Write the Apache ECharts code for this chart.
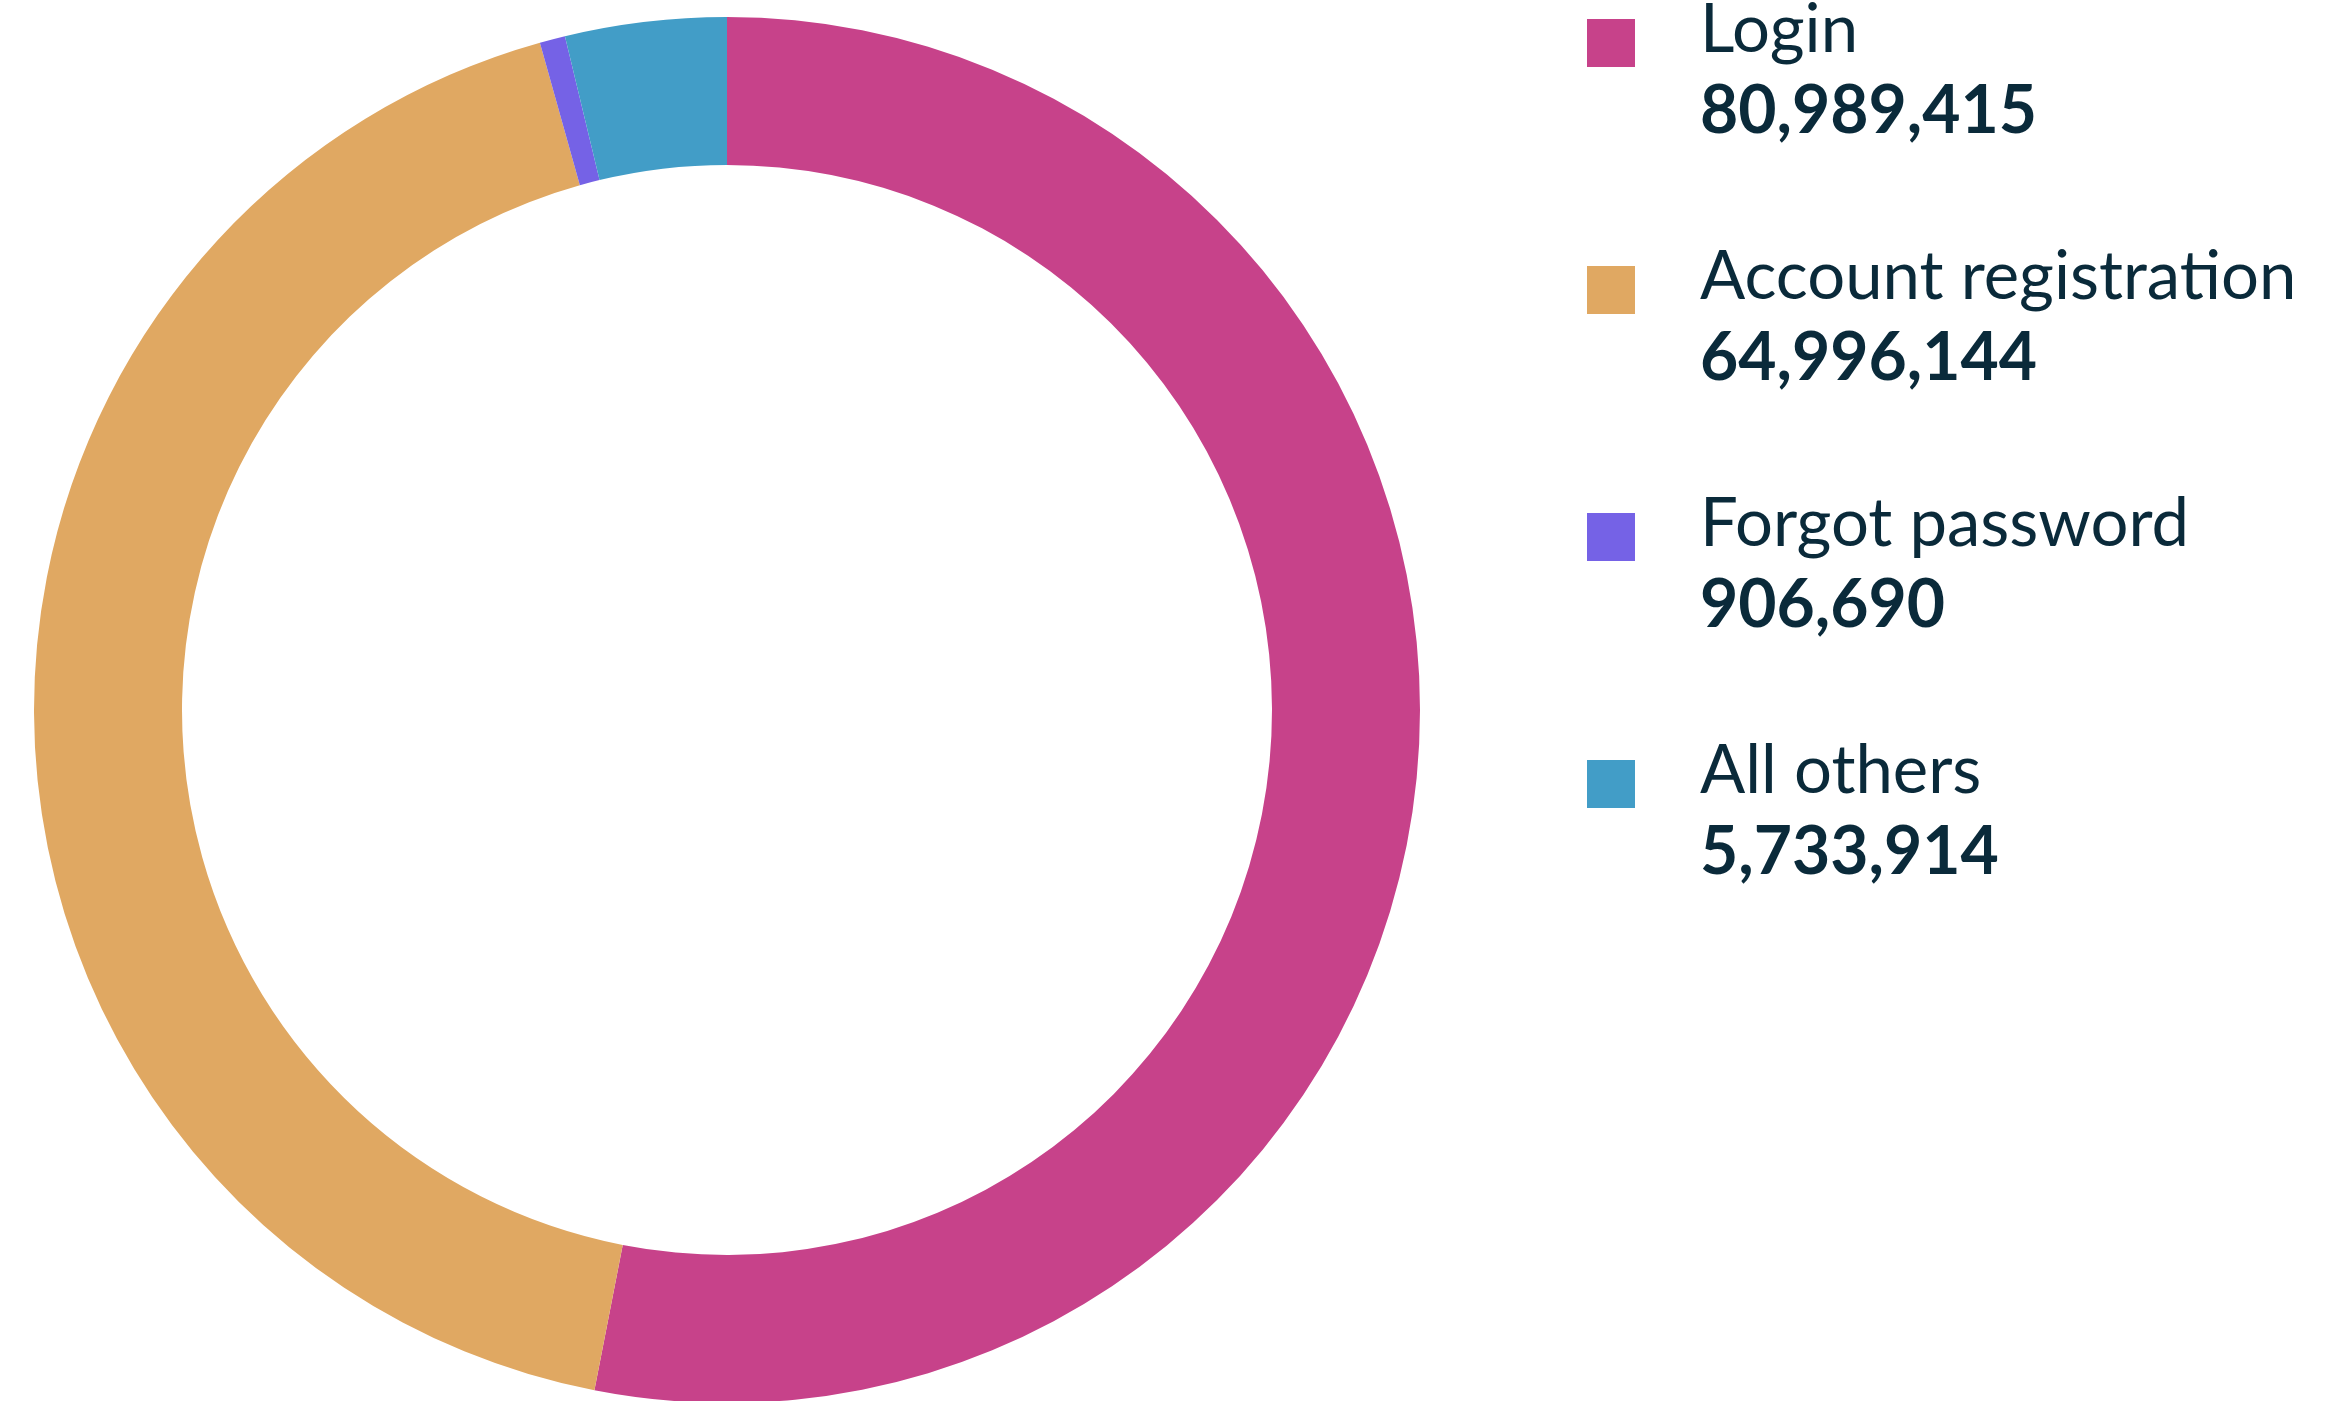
<!DOCTYPE html>
<html>
<head>
<meta charset="utf-8">
<script src="https://cdn.jsdelivr.net/npm/echarts@6/dist/echarts.min.js"></script>
<style>
  html, body { margin: 0; padding: 0; background: #fff; }
  #chart { width: 2326px; height: 1401px; }
</style>
</head>
<body>
<div id="chart"></div>
<script>
// data
var categories = ["Login", "Account registration", "Forgot password", "All others"];
var counts = [80989415, 64996144, 906690, 5733914];
var colors = ["#c7428a", "#e0a862", "#7562e6", "#429dc7"];

var chartDom = document.getElementById("chart");
var myChart = echarts.init(chartDom);

var seriesData = categories.map(function (name, i) {
  return { name: name, value: counts[i], itemStyle: { color: colors[i] } };
});

function fmt(n) {
  return n.toLocaleString("en-US");
}

var option = {
  animation: false,
  legend: {
    orient: "vertical",
    left: 1582,
    top: -49,
    itemWidth: 48,
    itemHeight: 48,
    itemGap: 58,
    icon: "rect",
    selectedMode: false,
    data: categories,
    formatter: function (name) {
      var i = categories.indexOf(name);
      // empty first line so the square sits next to the name line
      return "{e| }\n{n|" + name + "}\n{v|" + fmt(counts[i]) + "}";
    },
    textStyle: {
      padding: [0, 0, 0, 60],
      rich: {
        e: { fontSize: 10, lineHeight: 56 },
        n: {
          fontFamily: "Lato",
          fontSize: 67,
          lineHeight: 82,
          color: "#0a2a3a",
        },
        v: {
          fontFamily: "Lato",
          fontSize: 66,
          fontWeight: "bold",
          lineHeight: 82,
          color: "#0a2a3a",
        },
      },
    },
  },
  series: [
    {
      type: "pie",
      center: [727, 710],
      radius: [545, 693],
      startAngle: 90,
      clockwise: true,
      label: { show: false },
      labelLine: { show: false },
      emphasis: { disabled: true },
      data: seriesData,
    },
  ],
};

option && myChart.setOption(option);
</script>
</body>
</html>
